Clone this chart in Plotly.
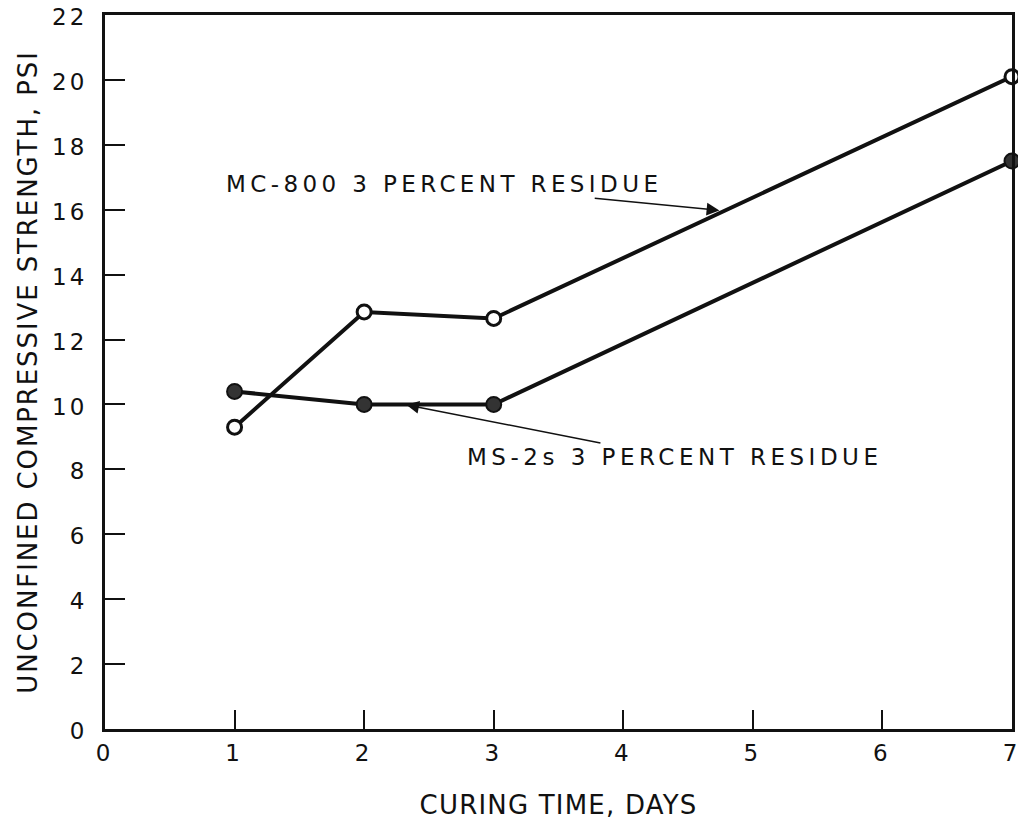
import plotly.graph_objects as go

days = [1, 2, 3, 7]
mc800 = [9.3, 12.85, 12.65, 20.1]
ms2s = [10.4, 10.0, 10.0, 17.5]
x_ticks = [0, 1, 2, 3, 4, 5, 6, 7]
y_ticks = [0, 2, 4, 6, 8, 10, 12, 14, 16, 18, 20, 22]

FONT = "DejaVu Sans"


def spaced(s, ls=4.0):
    return '<span style="letter-spacing:%.1fpx">%s</span>' % (ls, s)


fig = go.Figure()
fig.add_trace(go.Scatter(
    x=days, y=ms2s, mode="lines+markers",
    line=dict(color="#111", width=4),
    marker=dict(symbol="circle", size=15, color="#333", line=dict(color="#111", width=2)),
    showlegend=False, cliponaxis=False, hoverinfo="skip",
))
fig.add_trace(go.Scatter(
    x=days, y=mc800, mode="lines+markers",
    line=dict(color="#111", width=4),
    marker=dict(symbol="circle", size=14, color="white", line=dict(color="#111", width=3)),
    showlegend=False, cliponaxis=False, hoverinfo="skip",
))

fig.add_annotation(
    x=4.78, y=12.65 + (4.78 - 3) * (20.1 - 12.65) / 4, xref="x", yref="y",
    text=spaced("MC-800 3 PERCENT RESIDUE", 4.4),
    showarrow=True, ax=-280, ay=-27, arrowhead=2, arrowsize=1.7, arrowwidth=1.5,
    arrowcolor="#111", standoff=5, font=dict(family=FONT, size=23, color="#111"),
)
fig.add_annotation(
    x=2.31, y=10.0, xref="x", yref="y",
    text=spaced("MS-2s 3 PERCENT RESIDUE", 4.5),
    showarrow=True, ax=270, ay=53, arrowhead=2, arrowsize=1.7, arrowwidth=1.5,
    arrowcolor="#111", standoff=2, font=dict(family=FONT, size=23, color="#111"),
)

fig.update_layout(
    width=1018, height=820,
    margin=dict(l=105, r=6, t=15, b=91),
    paper_bgcolor="white", plot_bgcolor="white",
    font=dict(family=FONT, size=23, color="#111"),
)
fig.update_xaxes(
    range=[0, 7], tickvals=x_ticks, ticktext=[str(v) for v in x_ticks],
    showgrid=False, zeroline=False, showline=True, linecolor="#111", linewidth=3,
    mirror=True, ticks="inside", ticklen=19, tickwidth=2, tickcolor="#111",
    tickfont=dict(family=FONT, size=23), ticklabelstandoff=1, ticklabelshift=-2,
    automargin=False, ticklabeloverflow="allow",
    title=dict(text=spaced("CURING TIME, DAYS", 1.2),
               font=dict(family=FONT, size=26), standoff=32),
)
fig.update_yaxes(
    range=[0, 22], tickvals=y_ticks, ticktext=[spaced(str(v), 3) for v in y_ticks],
    showgrid=False, zeroline=False, showline=True, linecolor="#111", linewidth=3,
    mirror=True, ticks="inside", ticklen=20, tickwidth=2, tickcolor="#111",
    tickfont=dict(family=FONT, size=23), ticklabelstandoff=10, ticklabelshift=2,
    automargin=False, ticklabeloverflow="allow",
    title=dict(text=spaced("UNCONFINED COMPRESSIVE STRENGTH, PSI", 1.9),
               font=dict(family=FONT, size=26), standoff=8),
)

# the default page body has an 8px margin; remove it so the figure fills the window exactly
fig.write_html("out.html", config={"displayModeBar": False, "staticPlot": True},
               post_script="document.body.style.margin='0';")
